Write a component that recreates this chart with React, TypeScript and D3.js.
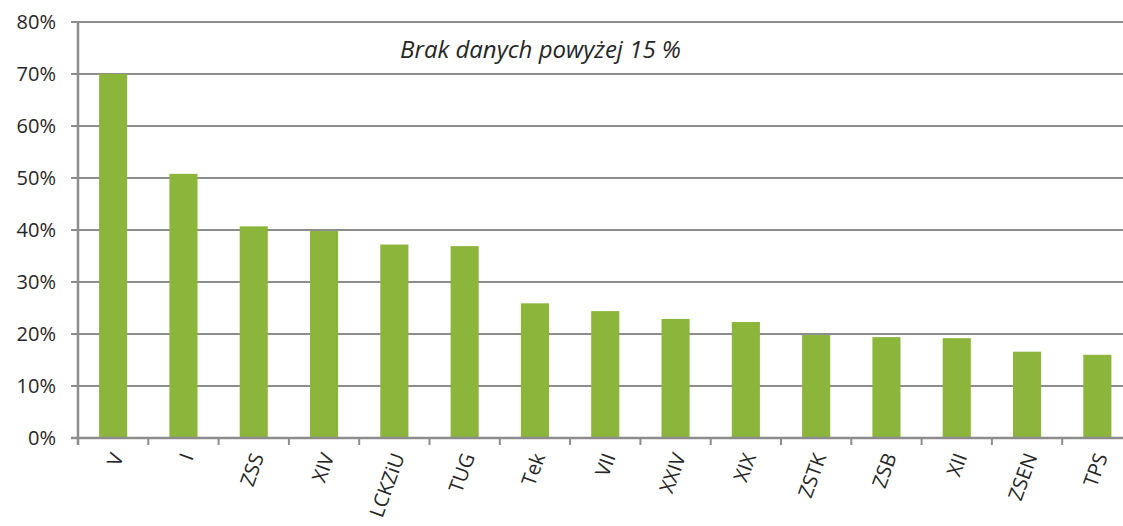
import React from "react";
import * as d3 from "d3";

const categories = ["V", "I", "ZSS", "XIV", "LCKZiU", "TUG", "Tek", "VII", "XXIV", "XIX", "ZSTK", "ZSB", "XII", "ZSEN", "TPS"];
const values = [70.0, 50.8, 40.7, 39.8, 37.2, 36.9, 25.9, 24.4, 22.9, 22.3, 19.8, 19.4, 19.2, 16.6, 16.0];
const yTicks = [0, 10, 20, 30, 40, 50, 60, 70, 80];
const note = "Brak danych powyżej 15 %";

const W = 1123;
const H = 526;
const left = 78;
const top = 22;
const bottom = 438;
const right = 1132.5;

export default function App() {
  const x = d3.scaleBand<string>().domain(categories).range([left, right]).paddingInner(0.6).paddingOuter(0.3);
  const y = d3.scaleLinear().domain([0, 80]).range([bottom, top]);
  const step = x.step();
  const font = "'Open Sans', 'DejaVu Sans', sans-serif";
  return (
    <div style={{ position: "absolute", left: 0, top: 0 }}>
      <svg width={W} height={H} style={{ display: "block", background: "#fff" }}>
        {yTicks.map((t) => (
          <g key={t}>
            <line x1={71} x2={W} y1={y(t)} y2={y(t)} stroke="#8c8c8c" strokeWidth={2} />
            <text x={56} y={y(t)} dy="0.35em" textAnchor="end" fontFamily={font} fontWeight={400} fontSize={20} fill="#262626">
              {t}%
            </text>
          </g>
        ))}
        {categories.map((c, i) => (
          <rect key={c} x={x(c)} y={y(values[i])} width={x.bandwidth()} height={bottom - y(values[i])} fill="#8cb53c" />
        ))}
        {d3.range(categories.length + 1).map((i) => (
          <line key={i} x1={left + i * step} x2={left + i * step} y1={bottom} y2={bottom + 7} stroke="#8c8c8c" strokeWidth={2} />
        ))}
        <line x1={left} x2={left} y1={top} y2={bottom + 7} stroke="#8c8c8c" strokeWidth={2.5} />
        <line x1={71} x2={W} y1={bottom} y2={bottom} stroke="#8c8c8c" strokeWidth={2.5} />
        {categories.map((c) => {
          const cx = (x(c) as number) + x.bandwidth() / 2 + 4;
          const cy = bottom + 16;
          return (
            <text key={c} transform={`translate(${cx},${cy}) rotate(-70)`} textAnchor="end" dy="0.35em" fontFamily={font} fontWeight={400} fontSize={20} fill="#262626">
              {c}
            </text>
          );
        })}
        <text x={400} y={58} fontFamily={font} fontWeight={400} fontStyle="italic" fontSize={24} fill="#262626">
          {note}
        </text>
      </svg>
    </div>
  );
}
